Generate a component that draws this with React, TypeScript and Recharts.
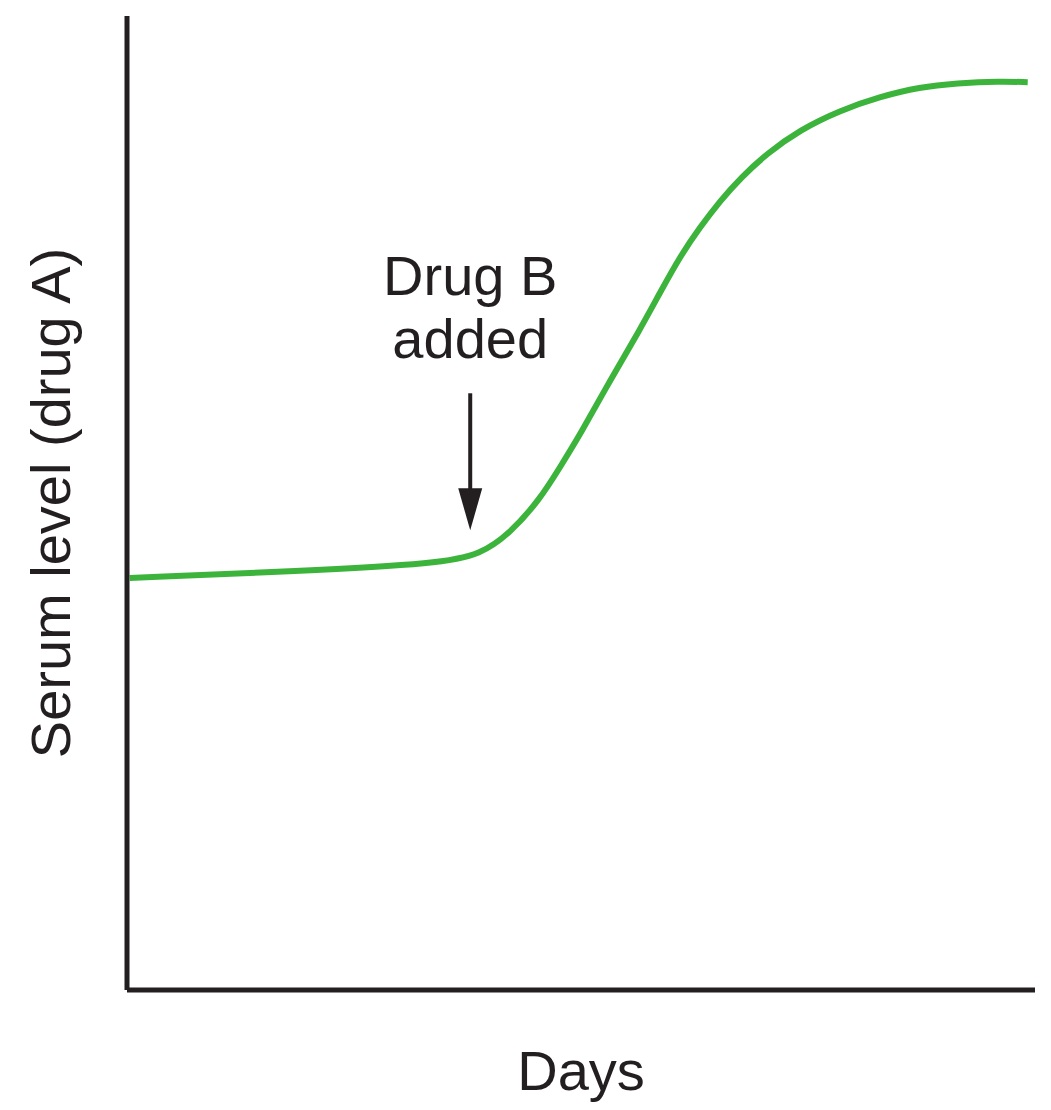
import { LineChart, Line, XAxis, YAxis, ReferenceDot } from 'recharts'

// days (0-100 scale) and serum level of drug A (0-100 scale)
const days = [0.3, 19, 34.5, 38.9, 42.2, 45.5, 47.7, 49.9, 53.2, 56.5, 58.7, 60.9, 63.1, 65.3, 67.6, 70.5, 74.1, 78.5, 82.9, 87.3, 91.4, 96.1, 99.2]
const serum = [42.3, 43.0, 43.8, 44.7, 46.9, 50.4, 53.7, 57.0, 62.6, 67.8, 71.6, 75.3, 78.3, 81.0, 83.4, 85.9, 88.3, 90.3, 91.7, 92.7, 93.1, 93.3, 93.2]

const drugBDay = 37.8
const drugBLevel = 47.2
const drugBLines = ['Drug B', 'added']

const data = days.map((d, i) => ({ day: d, level: serum[i] }))

const ink = '#231f20'
const font = '"Liberation Sans", Arial, Helvetica, sans-serif'

function ArrowNote(props: any) {
  const { cx, cy } = props
  if (cx == null || cy == null) return null
  return (
    <g>
      <line x1={cx} y1={cy - 137} x2={cx} y2={cy - 30} stroke={ink} strokeWidth={4} />
      <polygon points={`${cx - 12},${cy - 42} ${cx + 12},${cy - 42} ${cx},${cy}`} fill={ink} />
      {drugBLines.map((t, i) => (
        <text key={t} x={cx} y={cy - 235 + i * 63} textAnchor="middle" fontSize={56} fill={ink} fontFamily={font}>
          {t}
        </text>
      ))}
    </g>
  )
}

export default function App() {
  return (
    <div style={{ position: 'absolute', left: 0, top: 0, background: '#fff' }}>
      <LineChart width={1051} height={1110} data={data} margin={{ top: 16, right: 16, left: 0, bottom: 0 }}>
        <XAxis
          dataKey="day"
          type="number"
          domain={[0, 100]}
          tick={false}
          tickLine={false}
          height={120}
          axisLine={{ stroke: ink, strokeWidth: 5 }}
          label={{
            content: ({ viewBox }: any) => (
              <text x={viewBox.x + viewBox.width / 2} y={1090} textAnchor="middle" fontSize={56} fill={ink} fontFamily={font}>
                Days
              </text>
            ),
          }}
        />
        <YAxis
          type="number"
          domain={[0, 100]}
          tick={false}
          tickLine={false}
          width={127}
          axisLine={{ stroke: ink, strokeWidth: 5 }}
          label={{
            content: ({ viewBox }: any) => {
              const cy = viewBox.y + viewBox.height / 2
              return (
                <text x={70} y={cy} transform={`rotate(-90 70 ${cy})`} textAnchor="middle" fontSize={56} fill={ink} fontFamily={font}>
                  Serum level (drug A)
                </text>
              )
            },
          }}
        />
        <Line
          type="basis"
          dataKey="level"
          stroke="#3cb43c"
          strokeWidth={6}
          dot={false}
          isAnimationActive={false}
        />
        <ReferenceDot x={drugBDay} y={drugBLevel} r={0} shape={ArrowNote} />
      </LineChart>
    </div>
  )
}
